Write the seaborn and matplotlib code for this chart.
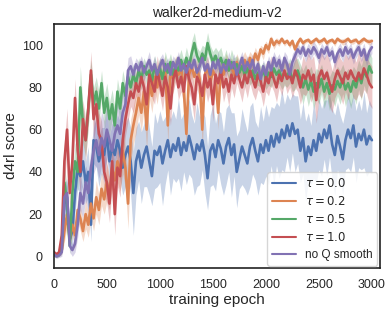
import numpy as np
import pandas as pd
import matplotlib
matplotlib.use("Agg")
import matplotlib.pyplot as plt
import seaborn as sns

# evaluation every 25 epochs
epochs = np.arange(0, 3001, 25)

names = [r"$\tau = 0.0$", r"$\tau = 0.2$", r"$\tau = 0.5$", r"$\tau = 1.0$", "no Q smooth"]

# mean d4rl score per run
tau00 = [1, 0.5, 1, 3, 25, 28, 8, 12, 30, 42,
         38, 45, 35, 40, 15, 55, 52, 45, 50, 48,
         58, 45, 52, 48, 55, 50, 42, 48, 52, 45,
         30, 45, 50, 42, 48, 52, 45, 38, 50, 48,
         52, 44, 50, 55, 47, 53, 50, 56, 48, 54,
         50, 57, 52, 46, 53, 50, 55, 48, 37, 50,
         53, 47, 55, 51, 44, 52, 56, 48, 53, 40,
         46, 52, 48, 44, 52, 56, 50, 45, 53, 49,
         55, 50, 57, 52, 58, 54, 60, 56, 62, 57,
         63, 58, 60, 50, 56, 45, 52, 48, 55, 50,
         58, 54, 60, 56, 62, 53, 48, 57, 52, 46,
         55, 60, 56, 62, 52, 58, 55, 60, 53, 57,
         55]
tau02 = [1, 0.5, 1, 3, 12, 20, 8, 15, 10, 22,
         18, 12, 20, 15, 25, 18, 28, 22, 32, 27,
         35, 30, 42, 36, 45, 40, 50, 42, 25, 55,
         62, 68, 75, 68, 78, 60, 82, 76, 85, 80,
         88, 84, 90, 62, 88, 84, 90, 86, 89, 80,
         58, 86, 90, 85, 89, 84, 60, 86, 90, 82,
         88, 85, 68, 88, 86, 92, 88, 90, 86, 92,
         88, 90, 93, 89, 94, 91, 96, 93, 98, 96,
         100, 98, 103, 100, 102, 101, 103, 101, 102, 100,
         102, 98, 101, 103, 101, 102, 102.5, 101, 102, 103,
         101.5, 102, 103, 101, 102, 102.5, 101, 103, 102, 101.5,
         102, 103, 101.5, 102, 102.5, 101, 102, 103, 102, 101.5,
         102]
tau05 = [1, 0.5, 1, 5, 35, 25, 5, 30, 45, 40,
         80, 62, 55, 70, 86, 72, 78, 70, 82, 68,
         75, 65, 72, 62, 78, 70, 82, 76, 85, 80,
         86, 82, 88, 84, 90, 86, 88, 83, 90, 86,
         89, 84, 91, 87, 92, 86, 90, 88, 93, 89,
         94, 90, 96, 101, 95, 92, 96, 93, 101, 96,
         92, 95, 91, 94, 90, 93, 88, 92, 89, 91,
         87, 90, 86, 89, 85, 88, 84, 87, 85, 88,
         84, 87, 85, 89, 86, 88, 84, 87, 85, 88,
         84, 86, 88, 84, 80, 84, 79, 83, 78, 82,
         80, 84, 78, 82, 77, 81, 79, 83, 80, 84,
         79, 82, 78, 83, 80, 86, 82, 88, 85, 90,
         87]
tau10 = [2, 1, 2, 10, 45, 60, 30, 45, 75, 50,
         40, 65, 55, 70, 88, 65, 72, 58, 55, 40,
         35, 25, 45, 20, 42, 38, 55, 65, 72, 78,
         75, 82, 78, 85, 80, 72, 86, 82, 78, 88,
         82, 76, 85, 80, 70, 84, 88, 80, 85, 78,
         90, 84, 80, 72, 85, 82, 76, 86, 80, 84,
         72, 86, 82, 88, 80, 84, 78, 86, 82, 88,
         84, 80, 86, 82, 88, 84, 80, 86, 83, 78,
         85, 82, 88, 84, 80, 86, 83, 88, 84, 86,
         82, 88, 85, 80, 86, 84, 88, 83, 86, 74,
         85, 88, 84, 87, 82, 78, 84, 88, 85, 82,
         87, 84, 88, 85, 83, 87, 84, 89, 86, 82,
         80]
no_smooth = [1, 0, 0.5, 2, 28, 30, 5, 3, 6, 15,
             30, 25, 35, 30, 42, 50, 55, 48, 56, 52,
             60, 55, 50, 58, 62, 58, 68, 72, 88, 90,
             86, 91, 88, 92, 87, 90, 93, 88, 91, 86,
             90, 93, 88, 91, 86, 92, 89, 94, 88, 91,
             87, 92, 89, 93, 87, 90, 94, 88, 91, 86,
             92, 89, 93, 87, 91, 88, 93, 89, 92, 86,
             90, 94, 88, 92, 89, 93, 87, 91, 84, 90,
             86, 92, 88, 94, 90, 93, 88, 94, 91, 86,
             92, 95, 98, 96, 99, 95, 98, 96, 99, 97,
             94, 98, 96, 99, 95, 97, 92, 96, 98, 95,
             99, 96, 98, 94, 97, 99, 95, 98, 93, 97,
             99]

# spread across seeds (std)
sd00 = [1, 1, 1, 2, 6, 8, 5, 7, 9, 10,
        9, 11, 10, 12, 8, 11, 10, 12, 11, 13,
        10, 12, 11, 13, 12, 14, 13, 15, 14, 16,
        20, 16, 14, 17, 15, 19, 16, 14, 18, 15,
        17, 20, 16, 14, 18, 16, 15, 19, 17, 14,
        16, 18, 15, 17, 20, 16, 14, 18, 15, 17,
        19, 16, 14, 17, 15, 18, 16, 20, 15, 17,
        14, 18, 16, 15, 19, 17, 14, 16, 18, 15,
        17, 16, 14, 18, 15, 17, 19, 16, 15, 17,
        14, 18, 16, 15, 17, 19, 16, 14, 18, 15,
        17, 16, 14, 18, 15, 17, 19, 16, 15, 17,
        14, 18, 16, 15, 17, 16, 14, 18, 15, 17,
        16]
sd02 = [1, 1, 1, 2, 5, 6, 4, 5, 6, 5,
        6, 5, 7, 6, 7, 6, 8, 7, 8, 7,
        9, 8, 10, 9, 10, 9, 11, 10, 12, 10,
        9, 10, 8, 9, 8, 10, 7, 8, 7, 8,
        6, 7, 5, 9, 6, 7, 5, 6, 5, 7,
        9, 6, 5, 6, 5, 6, 9, 6, 5, 6,
        5, 6, 8, 5, 6, 4, 5, 4, 5, 4,
        5, 4, 4, 5, 3, 4, 3, 3, 2, 3,
        2, 2, 1.5, 2, 1.5, 1.5, 1, 1.5, 1, 1.5,
        1, 2, 1.5, 1, 1.5, 1, 1, 1.5, 1, 1,
        1.5, 1, 1, 1.5, 1, 1, 1.5, 1, 1, 1.5,
        1.5, 1, 1, 1.5, 1, 1, 1.5, 1, 1, 1.5,
        1]
sd05 = [1, 1, 1, 3, 8, 8, 4, 8, 9, 9,
        10, 9, 8, 9, 7, 8, 7, 8, 6, 8,
        7, 8, 7, 8, 6, 7, 6, 6, 5, 6,
        5, 4, 6, 5, 4, 5, 4, 6, 5, 4,
        5, 4, 6, 5, 4, 5, 4, 6, 5, 4,
        5, 4, 6, 5, 4, 5, 4, 6, 5, 4,
        5, 4, 6, 5, 4, 5, 4, 6, 5, 4,
        5, 4, 6, 5, 4, 5, 4, 6, 5, 4,
        5, 6, 5, 6, 5, 6, 5, 6, 5, 6,
        6, 7, 6, 7, 8, 7, 8, 7, 8, 7,
        8, 7, 8, 7, 8, 7, 8, 7, 8, 7,
        8, 7, 8, 7, 8, 7, 8, 7, 8, 7,
        7]
sd10 = [1, 1, 1, 4, 10, 10, 8, 10, 9, 10,
        10, 9, 10, 8, 9, 10, 9, 10, 9, 10,
        10, 9, 11, 10, 9, 10, 9, 8, 8, 7,
        7, 6, 7, 6, 7, 8, 6, 7, 6, 7,
        6, 7, 6, 7, 8, 6, 5, 6, 7, 6,
        5, 6, 7, 8, 6, 7, 6, 6, 7, 6,
        8, 6, 7, 6, 7, 6, 7, 6, 7, 6,
        6, 7, 6, 7, 6, 7, 6, 7, 6, 7,
        7, 6, 7, 6, 7, 6, 7, 6, 7, 6,
        7, 8, 7, 8, 9, 8, 9, 10, 9, 11,
        10, 9, 10, 9, 11, 10, 9, 10, 9, 10,
        9, 10, 9, 10, 9, 10, 9, 10, 9, 10,
        10]
sd_ns = [1, 1, 1, 2, 6, 7, 3, 3, 4, 6,
         8, 7, 8, 9, 10, 11, 12, 11, 13, 12,
         14, 13, 15, 14, 13, 12, 11, 10, 6, 5,
         4, 3, 4, 3, 4, 3, 4, 3, 4, 3,
         4, 3, 4, 3, 4, 3, 4, 3, 4, 3,
         4, 3, 4, 3, 4, 3, 4, 3, 4, 3,
         4, 3, 4, 3, 4, 3, 4, 3, 4, 3,
         4, 3, 4, 3, 4, 3, 4, 3, 4, 3,
         4, 3, 4, 3, 4, 3, 4, 3, 4, 3,
         4, 3, 3, 3, 3, 3, 3, 3, 3, 3,
         3, 3, 3, 3, 3, 3, 3, 3, 3, 3,
         3, 3, 3, 3, 3, 3, 3, 3, 3, 3,
         3]

means = [tau00, tau02, tau05, tau10, no_smooth]
sds = [sd00, sd02, sd05, sd10, sd_ns]

df = pd.concat([pd.DataFrame({"epoch": epochs, "score": m, "sd": s, "run": n})
                for m, s, n in zip(means, sds, names)], ignore_index=True)

sns.set_theme(style="white")
plt.rcParams["font.family"] = ["Liberation Sans", "DejaVu Sans"]
colors = sns.color_palette("deep")[:5]

fig, ax = plt.subplots(figsize=(3.9, 3.12), dpi=100)
fig.subplots_adjust(left=0.138, right=0.974, bottom=0.141, top=0.923)

# shaded spread first, then the mean curves on top
for n, c in zip(names, colors):
    d = df[df.run == n]
    ax.fill_between(d.epoch, d.score - d.sd, d.score + d.sd, color=c, alpha=0.3, lw=0)

sns.lineplot(data=df, x="epoch", y="score", hue="run", palette=colors,
             linewidth=1.9, ax=ax)

ax.set_xlim(0, 3075)
ax.set_ylim(-5.5, 110)
ax.set_xticks([0, 500, 1000, 1500, 2000, 2500, 3000])
ax.set_yticks([0, 20, 40, 60, 80, 100])
ax.tick_params(labelsize=9, pad=2)
ax.set_xlabel("training epoch", fontsize=11, labelpad=1)
ax.set_ylabel("d4rl score", fontsize=11, labelpad=3)
ax.set_title("walker2d-medium-v2", fontsize=10, pad=5)
for s in ax.spines.values():
    s.set_color("#222222")
    s.set_linewidth(1.2)
leg = ax.legend(title=None, loc="lower right", fontsize=8.5, borderaxespad=0.2,
                labelspacing=0.42)
for line in leg.get_lines():
    line.set_linewidth(1.5)

fig.savefig("out.png", dpi=100)
